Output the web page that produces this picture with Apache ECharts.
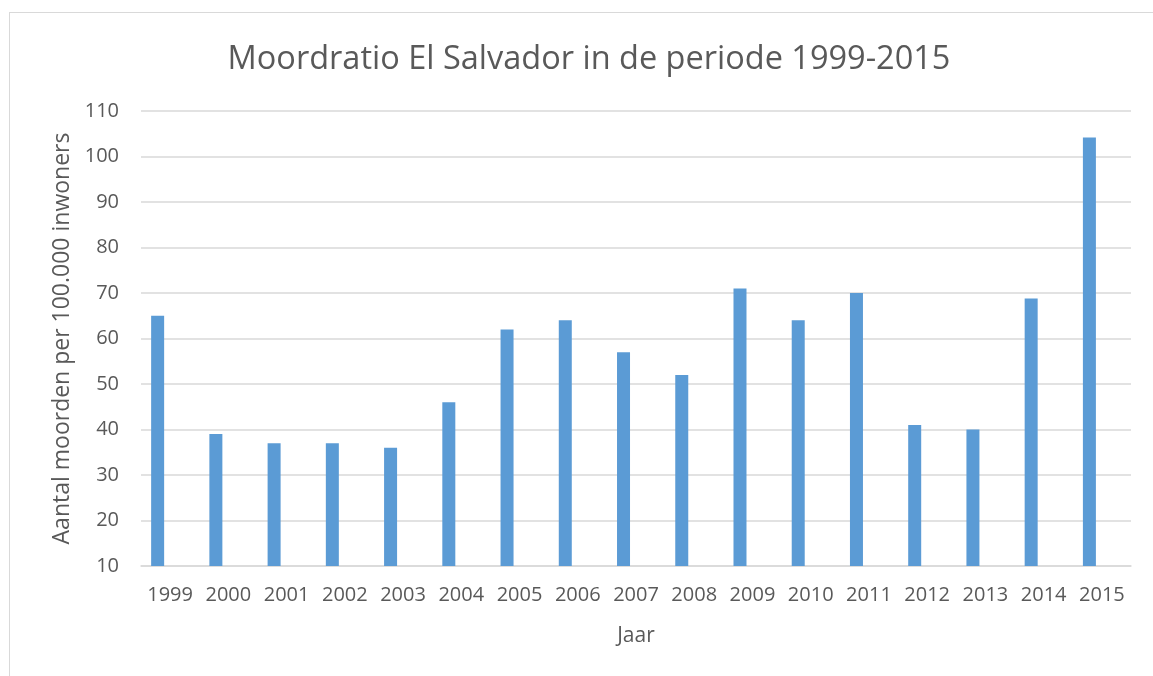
<!DOCTYPE html>
<html>
<head>
<meta charset="utf-8">
<script src="https://cdn.jsdelivr.net/npm/echarts@6/dist/echarts.min.js"></script>
<style>
  html, body { margin: 0; padding: 0; background: #fff; }
  #frame { position: absolute; left: 9px; top: 12px; width: 1160px; height: 700px; border: 1px solid #d9d9d9; box-sizing: border-box; }
  #chart { position: absolute; left: 0; top: 0; width: 1153px; height: 676px; }
</style>
</head>
<body>
<div id="frame"></div>
<div id="chart"></div>
<script>
var years = ['1999','2000','2001','2002','2003','2004','2005','2006','2007','2008','2009','2010','2011','2012','2013','2014','2015'];
var moordratio = [65, 39, 37, 37, 36, 46, 62, 64, 57, 52, 71, 64, 70, 41, 40, 68.8, 104.2];
// lege tweede reeks (zoals in het Excel-origineel), schuift de staven naar links
var leeg = years.map(function () { return null; });

var chart = echarts.init(document.getElementById('chart'));
var font = 'Open Sans, sans-serif';
var txt = '#595959';

var option = {
  backgroundColor: 'transparent',
  animation: false,
  title: {
    text: 'Moordratio El Salvador in de periode 1999-2015',
    left: 584,
    top: 38,
    textAlign: 'center',
    textStyle: { fontFamily: font, fontSize: 32.5, fontWeight: 'normal', color: txt }
  },
  grid: { left: 141, right: 22, top: 111, bottom: 110 },
  xAxis: {
    type: 'category',
    data: years,
    name: 'Jaar',
    nameLocation: 'middle',
    nameGap: 60,
    nameTextStyle: { fontFamily: font, fontSize: 21, color: txt },
    axisLine: { lineStyle: { color: '#d9d9d9', width: 1.5 } },
    axisTick: { show: false },
    axisLabel: { fontFamily: font, fontSize: 20, color: txt, margin: 19, interval: 0 }
  },
  yAxis: {
    type: 'value',
    min: 10,
    max: 110,
    interval: 10,
    name: 'Aantal moorden per 100.000 inwoners',
    nameLocation: 'middle',
    nameGap: 67,
    nameTextStyle: { fontFamily: font, fontSize: 23, color: txt },
    axisLine: { show: false },
    axisTick: { show: false },
    axisLabel: { fontFamily: font, fontSize: 20, color: txt, margin: 22 },
    splitLine: { lineStyle: { color: '#d9d9d9', width: 1.5 } }
  },
  series: [{
    type: 'bar',
    data: moordratio,
    barWidth: 13,
    barGap: '92%',
    itemStyle: { color: '#5b9bd5' }
  }, {
    type: 'bar',
    data: leeg,
    barWidth: 13
  }]
};
chart.setOption(option);
</script>
</body>
</html>
